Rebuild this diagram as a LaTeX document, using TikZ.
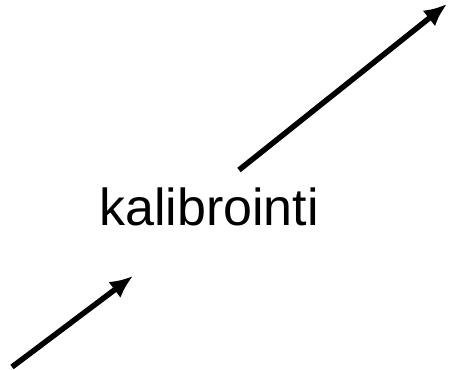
\documentclass[tikz,border=0pt]{standalone}
\usepackage{fontspec}
\setmainfont{Liberation Sans}
\usetikzlibrary{arrows.meta,positioning}
\tikzset{
  label/.style={
    anchor=base,
    inner sep=0pt,
    font=\fontsize{52}{60}\selectfont
  },
  line/.style={-{Latex[length=23pt,width=20pt]}, line width=5.5pt, draw=black}
}
\begin{document}
\begin{tikzpicture}[x=1pt,y=1pt]
  \useasboundingbox (0,0) rectangle (451,370);
  \node[label] (calib) at (209,144) {kalibrointi};

  \coordinate (inA) at (12,3);
  \coordinate (inB) at (133,94);
  \coordinate (outA) at (239,200);
  \coordinate (outB) at (447,366);

  \draw[line] (inA) -- (inB);
  \draw[line] (outA) -- (outB);
\end{tikzpicture}
\end{document}
